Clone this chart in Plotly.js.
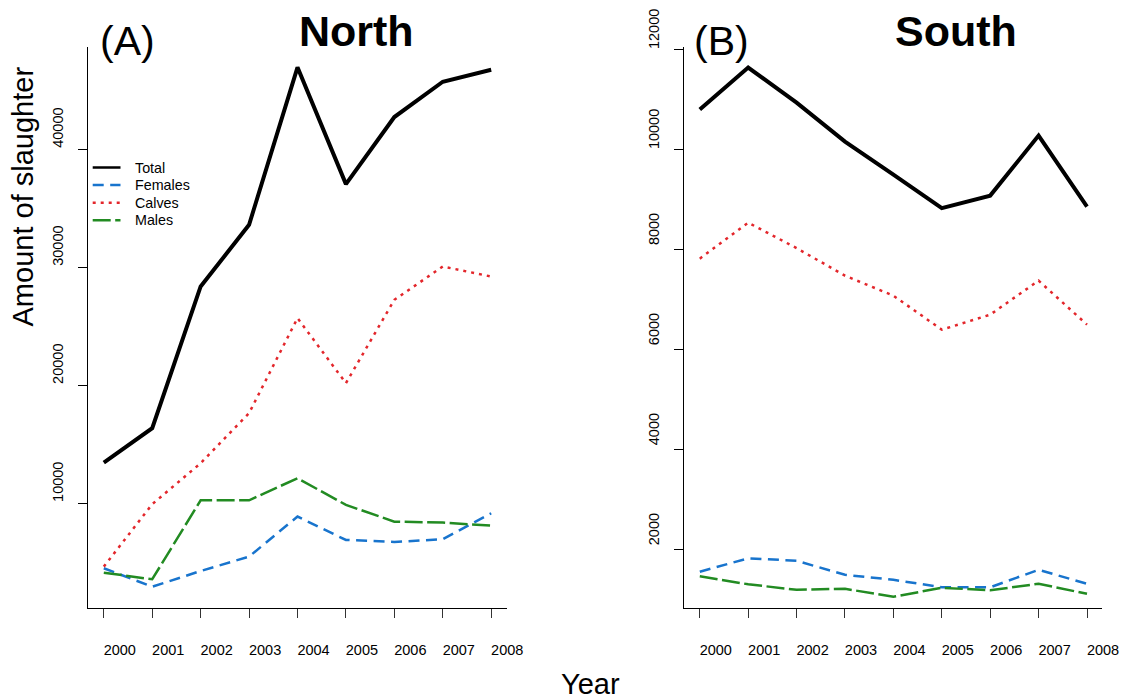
<!DOCTYPE html>
<html>
<head>
<meta charset="utf-8">
<script src="https://cdn.plot.ly/plotly-3.0.1.min.js"></script>
<style>
  html, body { margin: 0; padding: 0; background: #fff; }
  #chart { width: 1123px; height: 700px; }
</style>
</head>
<body>
<div id="chart"></div>
<script>
// Annual slaughter counts, 2000-2008, by region and animal class
const years = [2000, 2001, 2002, 2003, 2004, 2005, 2006, 2007, 2008];
const yearLabels = ['2000', '2001', '2002', '2003', '2004', '2005', '2006', '2007', '2008'];

const northTotal   = [13500, 16420, 28420, 33640, 46980, 37090, 42770, 45760, 46780];
const northFemales = [4550, 2990, 4320, 5540, 8930, 6950, 6780, 7010, 9210];
const northCalves  = [4690, 9980, 13450, 17690, 25740, 20230, 27290, 30110, 29260];
const northMales   = [4180, 3620, 10310, 10310, 12180, 9920, 8500, 8420, 8160];

const southTotal   = [10790, 11630, 10930, 10150, 9490, 8820, 9070, 10270, 8850];
const southFemales = [1550, 1820, 1770, 1490, 1390, 1240, 1240, 1590, 1310];
const southCalves  = [7810, 8530, 8020, 7470, 7070, 6390, 6690, 7370, 6490];
const southMales   = [1460, 1300, 1190, 1210, 1050, 1230, 1180, 1310, 1110];

const northTicks = [10000, 20000, 30000, 40000];
const southTicks = [2000, 4000, 6000, 8000, 10000, 12000];

const seriesNames = ['Total', 'Females', 'Calves', 'Males'];

const FONT = 'Liberation Sans, Arial, Helvetica, sans-serif';
const W = 1123, H = 700;

// line style per class
const styles = {
  Total:   { color: '#000000', width: 4,   dash: 'solid' },
  Females: { color: '#1874CD', width: 2.5, dash: '11px,6.5px' },
  Calves:  { color: '#E3262B', width: 2.5, dash: '3px,5px' },
  Males:   { color: '#228B22', width: 2.5, dash: '18px,4.5px' }
};

function lineTrace(name, values, xa, ya) {
  return {
    type: 'scatter', mode: 'lines', name: name,
    x: years, y: values, xaxis: xa, yaxis: ya,
    line: { color: styles[name].color, width: styles[name].width, dash: styles[name].dash },
    showlegend: false, hoverinfo: 'skip'
  };
}

const northSeries = [northTotal, northFemales, northCalves, northMales];
const southSeries = [southTotal, southFemales, southCalves, southMales];

const traces = [];
seriesNames.forEach((n, i) => traces.push(lineTrace(n, northSeries[i], 'x', 'y')));
seriesNames.forEach((n, i) => traces.push(lineTrace(n, southSeries[i], 'x2', 'y2')));

// pixel helpers for paper coordinates (no margins)
const px = v => v / W;
const py = v => 1 - v / H;

const yDomain = [py(608.3), py(47.3)];

const xAxisBase = {
  range: [1999.68, 2008.32],
  tickvals: years, ticktext: yearLabels,
  showline: true, linecolor: '#000', linewidth: 1,
  ticks: 'outside', ticklen: 9, tickwidth: 1, tickcolor: '#333',
  showgrid: false, zeroline: false,
  tickfont: { family: FONT, size: 14.5, color: '#000' },
  ticklabelshift: 16, ticklabelstandoff: 19,
  fixedrange: true
};

const yAxisBase = {
  showline: true, linecolor: '#000', linewidth: 1,
  ticks: 'outside', ticklen: 9, tickwidth: 1, tickcolor: '#000',
  showgrid: false, zeroline: false,
  tickangle: -90,
  tickfont: { family: FONT, size: 14.5, color: '#000' },
  fixedrange: true
};

// key in the North panel: short line samples plus labels
const keyLeft = 92.7, keyRight = 120.5, keyText = 133, keyTop = 167.5, keyStep = 17.6;
const keyShapes = seriesNames.map((n, i) => ({
  type: 'line', xref: 'paper', yref: 'paper',
  x0: px(keyLeft), x1: px(keyRight), y0: py(keyTop + i * keyStep), y1: py(keyTop + i * keyStep),
  line: { color: styles[n].color, width: 2.5, dash: styles[n].dash }
}));
const keyLabels = seriesNames.map((n, i) => ({
  text: n, x: px(keyText), y: py(keyTop + i * keyStep), xref: 'paper', yref: 'paper',
  xanchor: 'left', yanchor: 'middle', showarrow: false,
  font: { family: FONT, size: 14.3, color: '#000' }
}));

const layout = {
  width: W, height: H, autosize: false,
  margin: { l: 0, r: 0, t: 0, b: 0, pad: 0 },
  paper_bgcolor: '#fff', plot_bgcolor: '#fff',
  font: { family: FONT, color: '#000' },
  showlegend: false,
  xaxis: Object.assign({}, xAxisBase, { domain: [px(88.3), px(506.7)], anchor: 'y' }),
  yaxis: Object.assign({}, yAxisBase, {
    domain: yDomain, anchor: 'x', range: [1161, 48678],
    tickvals: northTicks, ticktext: northTicks.map(String),
    ticklabelshift: -20, ticklabelstandoff: 10
  }),
  xaxis2: Object.assign({}, xAxisBase, { domain: [px(684.3), px(1102)], anchor: 'y2', range: [1999.68, 2008.31] }),
  yaxis2: Object.assign({}, yAxisBase, {
    domain: yDomain, anchor: 'x2', range: [820, 12035],
    tickvals: southTicks, ticktext: southTicks.map(String),
    ticklabelshift: -18, ticklabelstandoff: 10
  }),
  shapes: keyShapes,
  annotations: keyLabels.concat([
    { text: '(A)', x: px(127), y: py(41), xref: 'paper', yref: 'paper', xanchor: 'center', yanchor: 'middle',
      showarrow: false, font: { family: FONT, size: 41, color: '#000' } },
    { text: '<b>North</b>', x: px(356), y: py(31), xref: 'paper', yref: 'paper', xanchor: 'center', yanchor: 'middle',
      showarrow: false, font: { family: FONT, size: 43, color: '#000' } },
    { text: '(B)', x: px(722), y: py(41), xref: 'paper', yref: 'paper', xanchor: 'center', yanchor: 'middle',
      showarrow: false, font: { family: FONT, size: 41, color: '#000' } },
    { text: '<b>South</b>', x: px(956), y: py(31), xref: 'paper', yref: 'paper', xanchor: 'center', yanchor: 'middle',
      showarrow: false, font: { family: FONT, size: 43, color: '#000' } },
    { text: 'Amount of slaughter', x: px(22.5), y: py(197), xref: 'paper', yref: 'paper', xanchor: 'center', yanchor: 'middle',
      textangle: -90, showarrow: false, font: { family: FONT, size: 29, color: '#000' } },
    { text: 'Year', x: px(590), y: py(684), xref: 'paper', yref: 'paper', xanchor: 'center', yanchor: 'middle',
      showarrow: false, font: { family: FONT, size: 29, color: '#000' } }
  ])
};

Plotly.newPlot('chart', traces, layout, { staticPlot: true, displayModeBar: false });
</script>
</body>
</html>
